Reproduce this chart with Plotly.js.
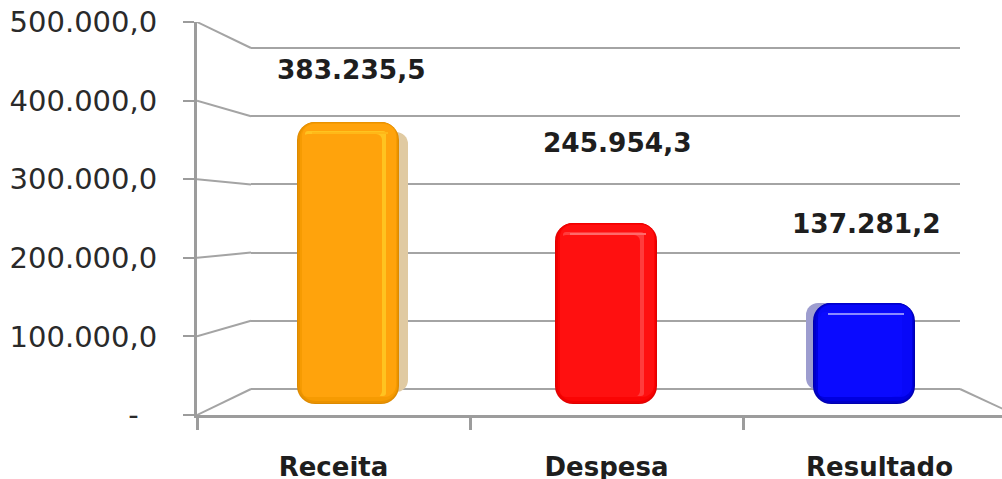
<!DOCTYPE html>
<html>
<head>
<meta charset="utf-8">
<script src="https://cdn.plot.ly/plotly-3.0.1.min.js"></script>
<style>html,body{margin:0;padding:0;background:#fff;overflow:hidden}</style>
</head>
<body>
<div id="chart" style="width:1002px;height:479px"></div>
<script>
const categories = ["Receita", "Despesa", "Resultado"];
const values = [383235.5, 245954.3, 137281.2];
const axisTicks = [0, 100000, 200000, 300000, 400000, 500000];
const axisLabels = ["-\u00a0\u00a0", "100.000,0", "200.000,0", "300.000,0", "400.000,0", "500.000,0"];

const W = 1002, H = 479, FRONT = "#9c9c9c", GRID = "#a4a4a4", INK = "#1e1e1e";
const FONT = '"DejaVu Sans", sans-serif';
const px = { front: {l:197, r:1002, y0:415, y1:22}, back: {l:251, r:960, y0:389, y1:48}, mid: {l:219, r:993, y0:404, y1:36} };
const dx = v => v / W, dy = v => (H - v) / H;
const kx = 3 / (px.mid.r - px.mid.l), ky = 500000 / (px.mid.y0 - px.mid.y1);
const frontXMax = (px.front.r - px.front.l) / 273;

const cx = categories.map((_, i) => i + 0.5);
const barPx = 102;

// layer: inset left, right, top, bottom (pixels), colours per bar, corner radius
function layer(il, ir, it, ib, colors, r) {
  return {
    type: "bar", xaxis: "x3", yaxis: "y3", hoverinfo: "skip", showlegend: false,
    x: cx.map(c => c + (il - ir) / 2 * kx),
    y: values.map(v => v - (it + ib) * ky),
    base: values.map(() => ib * ky),
    width: values.map(() => (barPx - il - ir) * kx),
    marker: { color: colors, cornerradius: r, line: { width: 0 } }
  };
}
// thin highlight just under the top of each bar
function topStripe(il, ir, it, h, colors) {
  return {
    type: "bar", xaxis: "x3", yaxis: "y3", hoverinfo: "skip", showlegend: false,
    x: cx.map(c => c + (il - ir) / 2 * kx),
    y: values.map(() => h * ky),
    base: values.map(v => v - (it + h) * ky),
    width: values.map(() => (barPx - il - ir) * kx),
    marker: { color: colors, line: { width: 0 } }
  };
}
// soft cast shadow behind each bar
const shadowShift = [9, 0, -7], shadowTop = [10, 4, 0], shadowBottom = [12, 12, 14];
const shadow = {
  type: "bar", xaxis: "x3", yaxis: "y3", hoverinfo: "skip", showlegend: false,
  x: cx.map((c, i) => c + shadowShift[i] * kx),
  y: values.map((v, i) => v - (shadowTop[i] + shadowBottom[i]) * ky),
  base: shadowBottom.map(b => b * ky),
  width: values.map(() => barPx * kx),
  marker: { color: ["#e0caa2", "#e8b0b0", "#9d9dcf"], cornerradius: 12, line: { width: 0 } }
};
const bars = [
  shadow,
  layer(0, 0, 0, 0, ["#dd8a00", "#e00000", "#0000b0"], 18),
  layer(1, 1, 0, 1, ["#ea9200", "#f00000", "#0000c8"], 17),
  layer(3, 2, 1, 3, ["#f69b02", "#fb0404", "#0000e0"], 15),
  layer(5, 3, 2, 7, ["#ffa30c", "#ff1010", "#0808f8"], 12),
  layer(8, 13, 9, 8, ["#ffc320", "#ff3c3c", "#0a0aff"], 3),
  topStripe(15, 11, 10, 2, ["#ffb818", "#ff6a6a", "#8a8aff"]),
  layer(5, 17, 12, 7, ["#ffa30c", "#ff1010", "#0a0aff"], 6)
];

// perspective connectors between the front axis and the back wall
const backInFront = v => (px.front.y0 - (px.back.y0 - (px.back.y0 - px.back.y1) * v / 500000)) / (px.front.y0 - px.front.y1) * 500000;
const connX = [], connY = [];
axisTicks.forEach(v => { connX.push(0, (px.back.l - px.front.l) / 273, null); connY.push(v, backInFront(v), null); });
connX.push((px.back.r - px.front.l) / 273, 3); connY.push(backInFront(0), 0);
const connectors = { type: "scatter", mode: "lines", x: connX, y: connY, xaxis: "x", yaxis: "y",
  hoverinfo: "skip", showlegend: false, cliponaxis: false, line: { color: GRID, width: 2 } };
const backDummy = { type: "scatter", mode: "none", x: [0], y: [0], xaxis: "x2", yaxis: "y2", hoverinfo: "skip", showlegend: false };
const labelDummy = { type: "scatter", mode: "none", x: [0.5], y: [0], xaxis: "x4", yaxis: "y", hoverinfo: "skip", showlegend: false };
const tickDummy = { type: "scatter", mode: "none", x: [0.5], y: [0], xaxis: "x", yaxis: "y4", hoverinfo: "skip", showlegend: false };

const fmt = v => {
  const [a, b] = v.toFixed(1).split(".");
  return a.replace(/\B(?=(\d{3})+$)/g, ".") + "," + b;
};
const labelShiftX = [3, 11, 2], labelShiftY = [52, 80, 79];

// back wall axis carries some padding so its end gridlines are drawn too
const backPad = 20000, backPadPx = backPad / 500000 * (px.back.y0 - px.back.y1);

const layout = {
  width: W, height: H, margin: { l: 0, r: 0, t: 0, b: 0 }, showlegend: false,
  paper_bgcolor: "#fff", plot_bgcolor: "rgba(0,0,0,0)", barmode: "overlay",
  xaxis: { domain: [dx(px.front.l), 1], range: [0, frontXMax], anchor: "y", tickmode: "array", tickvals: [0, 1, 2],
    showticklabels: false, ticks: "outside", ticklen: 12, tickwidth: 3, tickcolor: FRONT, showline: true, linecolor: FRONT, linewidth: 3, showgrid: false, zeroline: false },
  yaxis: { domain: [dy(px.front.y0), dy(px.front.y1)], range: [0, 500000], anchor: "x", tickmode: "array", tickvals: axisTicks,
    showticklabels: false, ticks: "outside", ticklen: 11, tickwidth: 2, tickcolor: FRONT, showline: true, linecolor: FRONT, linewidth: 3, showgrid: false, zeroline: false },
  yaxis4: { overlaying: "y", anchor: "x", domain: [dy(px.front.y0 + 1), dy(px.front.y1 + 1)], range: [0, 500000], tickmode: "array", tickvals: axisTicks, ticktext: axisLabels,
    ticks: "outside", ticklen: 33, tickwidth: 1, tickcolor: "rgba(0,0,0,0)", showline: false, showgrid: false, zeroline: false,
    tickfont: { family: FONT, size: 29, color: "#2a2a2a" } },
  xaxis2: { domain: [dx(px.back.l), dx(px.back.r)], range: [0, 3], anchor: "y2", visible: false },
  yaxis2: { domain: [dy(px.back.y0 + backPadPx), dy(px.back.y1 - backPadPx)], range: [-backPad, 500000 + backPad], anchor: "x2", tickmode: "array", tickvals: axisTicks,
    showticklabels: false, ticks: "", showline: false, showgrid: true, gridcolor: GRID, gridwidth: 2, zeroline: false },
  xaxis3: { domain: [dx(px.mid.l), dx(px.mid.r)], range: [0, 3], anchor: "y3", visible: false },
  yaxis3: { domain: [dy(px.mid.y0), dy(px.mid.y1)], range: [0, 500000], anchor: "x3", visible: false },
  xaxis4: { overlaying: "x", anchor: "y", range: [0, frontXMax], tickmode: "array", tickvals: cx, ticktext: categories,
    ticks: "outside", ticklen: 29, tickcolor: "rgba(0,0,0,0)", showline: false, showgrid: false, zeroline: false,
    tickfont: { family: FONT, size: 26, color: INK, weight: 700 } },
  annotations: values.map((v, i) => ({
    xref: "x3", yref: "y3", x: cx[i], y: v, text: "<b>" + fmt(v) + "</b>", showarrow: false,
    xshift: labelShiftX[i], yshift: labelShiftY[i], xanchor: "center", yanchor: "middle",
    font: { family: FONT, size: 26.4, color: INK }
  }))
};
Plotly.newPlot("chart", [connectors, labelDummy, tickDummy, backDummy].concat(bars), layout, { displayModeBar: false, staticPlot: true });
</script>
</body>
</html>
